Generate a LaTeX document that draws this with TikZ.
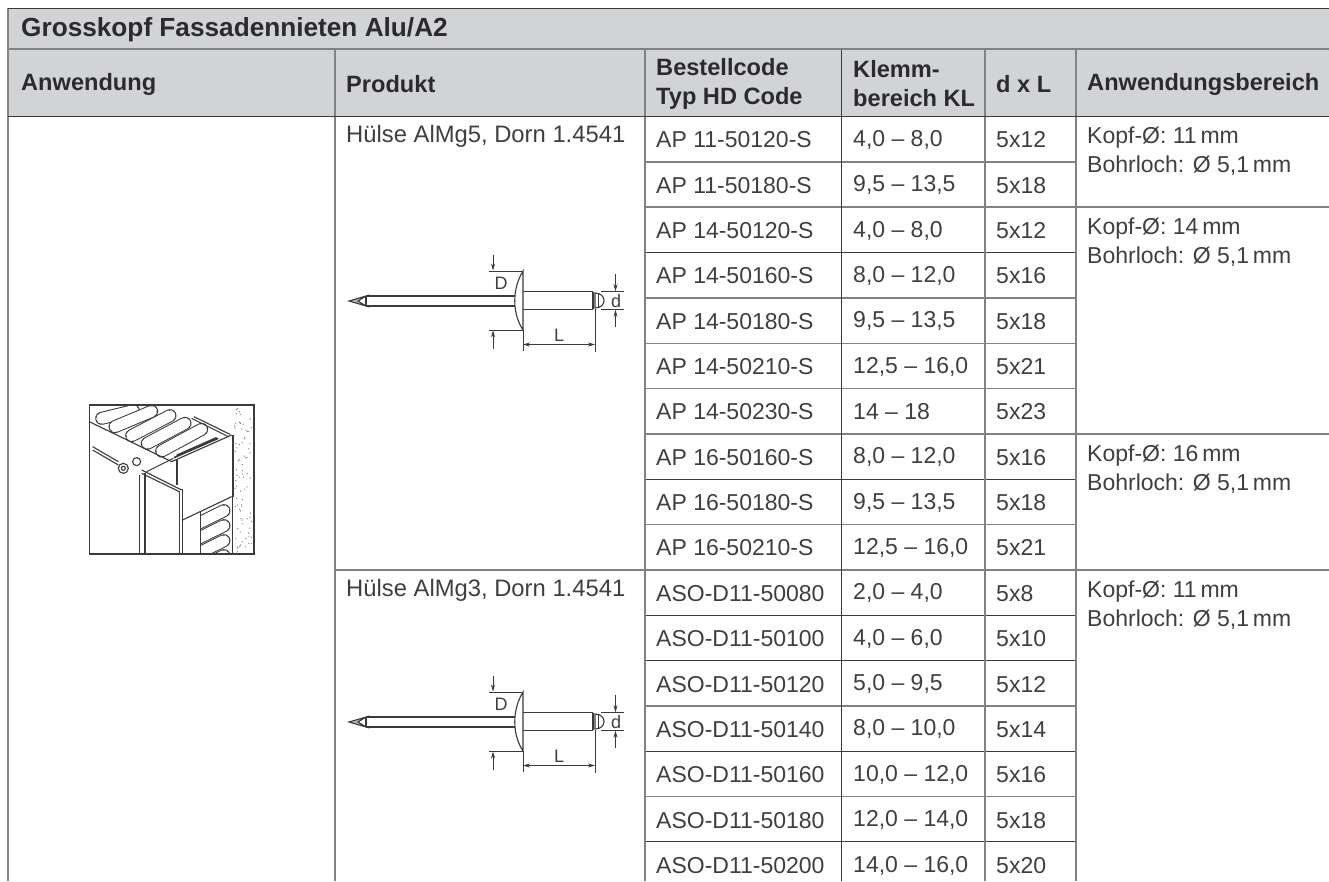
\documentclass[tikz,border=0pt]{standalone}
\usepackage{fontspec}
\setmainfont{Liberation Sans}
\usetikzlibrary{arrows.meta,positioning}
\definecolor{headGray}{HTML}{D1D3D4}
\definecolor{ruleGray}{HTML}{808285}
\definecolor{ruleDark}{HTML}{3A3A3C}
\definecolor{textDark}{HTML}{3F3F41}
\definecolor{headText}{HTML}{2B2B2D}
\begin{document}
\begin{tikzpicture}
[x=1pt,y=-1pt,
  titleDecorate/.style={anchor=west,inner sep=0pt,font=\fontsize{26.2}{26}\selectfont\bfseries,text=headText},
  headDecorate/.style={anchor=west,inner sep=0pt,align=left,font=\fontsize{23.6}{29}\selectfont\bfseries,text=headText},
  cellDecorate/.style={anchor=west,inner sep=0pt,align=left,font=\fontsize{23}{29}\selectfont,text=textDark},
  ruleThick/.style={ruleGray,line width=2pt},
  ruleMid/.style={ruleGray,line width=1.4pt},
  ruleThin/.style={ruleDark,line width=1pt},
  dimDecorate/.style={line width=0.7pt,ruleDark},
  dimArrow/.style={line width=0.7pt,ruleDark,-{Stealth[length=7pt,width=4pt]}},
  dimLabel/.style={inner sep=0pt,font=\fontsize{18}{18}\selectfont,text=textDark},
  rivetLine/.style={line width=1.1pt,ruleDark},
  rivet/.pic={
    \draw[rivetLine] (17,-5) -- (167,-5) (17,5) -- (167,5);
    \draw[rivetLine,fill=ruleGray!60] (0,0) -- (17,-5) -- (9,0) -- (17,5) -- cycle;
    \draw[rivetLine] (17,-5) -- (17,5);
    \draw[rivetLine,fill=white] (174,-30) .. controls (163,-12) and (163,12) .. (174,29) -- cycle;
    \draw[rivetLine] (174,-9.3) -- (244,-9.3) (174,8.3) -- (244,8.3);
    \draw[rivetLine] (244,-9.3) -- (244,8.3);
    \draw[rivetLine] (246,-8) .. controls (258,-8) and (258,7) .. (246,7) -- cycle;
    \draw[dimDecorate] (249,-7.5) -- (249,6.5);
    % dimension lines
    \coordinate (headTop) at (140,-30);
    \coordinate (headBottom) at (140,29);
    \draw[dimDecorate] (headTop) -- (174,-30) (headBottom) -- (174,29);
    \draw[dimDecorate] (174,29) -- (174,50) (246,8) -- (246,51);
    \draw[dimDecorate] (252,-9.3) -- (275,-9.3) (252,8.3) -- (275,8.3);
    \draw[dimArrow] (144,-46) -- (144,-30.5);
    \draw[dimArrow] (144,48) -- (144,29.5);
    \draw[dimArrow] (266.5,-27) -- (266.5,-9.8);
    \draw[dimArrow] (266.5,26) -- (266.5,8.8);
    \draw[dimArrow] (190,43.5) -- (174,43.5);
    \draw[dimArrow] (230,43.5) -- (246,43.5);
    \draw[dimDecorate] (190,43.5) -- (230,43.5);
    \node[dimLabel] (labelD) at (152,-18) {D};
    \node[dimLabel] (labelSmallD) at (267,0.5) {d};
    \node[dimLabel] (labelL) at (210,34) {L};
  }]
\useasboundingbox (0,0) rectangle (1329,881);
%% header bands
\fill[headGray] (8,8) rectangle (1329,116);
%% body rules
\foreach \ystart/\rowstyle in {
  1/ruleMid,3/ruleThin,4/ruleMid,5/ruleMid,6/ruleMid,
  8/ruleThin,9/ruleMid,11/ruleThin,12/ruleThin,13/ruleMid,14/ruleThin,15/ruleMid,16/ruleThin}
{
  \draw[\rowstyle] (645,116.5+\ystart*45.34) -- (1076,116.5+\ystart*45.34);
}
\foreach \ystart in {2,7}
{
  \draw[ruleMid] (645,116.5+\ystart*45.34) -- (1329,116.5+\ystart*45.34);
}
\draw[ruleMid] (335,570) -- (1329,570);
%% columns
\draw[ruleThick] (8,8) -- (8,881);
\draw[ruleThick] (335,49) -- (335,881);
\draw[ruleThick] (645,49) -- (645,881);
\draw[ruleThin] (841.5,49) -- (841.5,881);
\draw[ruleMid] (985,49) -- (985,881);
\draw[ruleMid] (1076,49) -- (1076,881);
%% head rules
\draw[ruleThin] (8,8) -- (1329,8);
\draw[ruleThick] (8,49) -- (1329,49);
\draw[ruleThin] (8,116.5) -- (1329,116.5);
%% head texts
\node[titleDecorate] (title) at (21,30) {Grosskopf Fassadennieten Alu/A2};
\foreach \nodename/\x/\txt in {
  anwendung/21/Anwendung,
  produkt/346/Produkt,
  code/656/{Bestellcode\\Typ HD Code},
  klemm/853/{Klemm-\\bereich KL},
  dxl/996/d x L,
  bereich/1087/Anwendungsbereich}
{
  \node[headDecorate] (\nodename) at (\x,84) {\txt};
}
%% rows
\foreach \rownum/\codename/\klemmtxt/\dxltxt in {
  0/AP 11-50120-S/{4,0 – 8,0}/5x12,
  1/AP 11-50180-S/{9,5 – 13,5}/5x18,
  2/AP 14-50120-S/{4,0 – 8,0}/5x12,
  3/AP 14-50160-S/{8,0 – 12,0}/5x16,
  4/AP 14-50180-S/{9,5 – 13,5}/5x18,
  5/AP 14-50210-S/{12,5 – 16,0}/5x21,
  6/AP 14-50230-S/{14 – 18}/5x23,
  7/AP 16-50160-S/{8,0 – 12,0}/5x16,
  8/AP 16-50180-S/{9,5 – 13,5}/5x18,
  9/AP 16-50210-S/{12,5 – 16,0}/5x21,
  10/ASO-D11-50080/{2,0 – 4,0}/5x8,
  11/ASO-D11-50100/{4,0 – 6,0}/5x10,
  12/ASO-D11-50120/{5,0 – 9,5}/5x12,
  13/ASO-D11-50140/{8,0 – 10,0}/5x14,
  14/ASO-D11-50160/{10,0 – 12,0}/5x16,
  15/ASO-D11-50180/{12,0 – 14,0}/5x18,
  16/ASO-D11-50200/{14,0 – 16,0}/5x20}
{
  \node[cellDecorate] (code\rownum) at (656,140+\rownum*45.34) {\codename};
  \node[cellDecorate] (klemm\rownum) at (853,140+\rownum*45.34) {\klemmtxt};
  \node[cellDecorate] (dxl\rownum) at (996,140+\rownum*45.34) {\dxltxt};
}
%% product and range texts
\node[cellDecorate,font=\fontsize{23.8}{29}\selectfont] (sleeveA) at (346,136) {Hülse AlMg5, Dorn 1.4541};
\node[cellDecorate,font=\fontsize{23.8}{29}\selectfont] (sleeveB) at (346,590) {Hülse AlMg3, Dorn 1.4541};
\foreach \nodename/\y/\headsize in {
  rangeA/151/11\,mm,
  rangeB/242/14\,mm,
  rangeC/469/16\,mm,
  rangeD/605/11\,mm}
{
  \node[cellDecorate] (\nodename) at (1087,\y) {Kopf-Ø: \headsize\\Bohrloch: Ø 5,1\,mm};
}
%% rivets
\pic at (349,301) {rivet};
\pic at (349,722) {rivet};
%% application sketch
\begin{scope}[shift={(70,390)},x=0.3333pt,y=-0.3333pt,line width=1.1pt,ruleDark]
% insulation on top
\foreach \xa/\ya/\xb/\yb in {95/85/190/62,135/110/245/64,185/137/300/77,232/160/345/100,275/183/395/118}
{
  \draw[line cap=round,line width=13pt] (\xa,\ya) -- (\xb,\yb);
  \draw[line cap=round,line width=11pt,white] (\xa,\ya) -- (\xb,\yb);
}
% insulation below
\begin{scope}
\clip (392,364) -- (485,320) -- (485,492) -- (392,492) -- cycle;
\foreach \ya in {380,425,470,515}
{
  \draw[line cap=round,line width=13pt] (375,\ya+25) -- (462,\ya-18);
  \draw[line cap=round,line width=11pt,white] (375,\ya+25) -- (462,\ya-18);
}
\end{scope}
\draw[line width=1.4pt] (58,492) -- (58,45) -- (552,45) -- (552,492) -- cycle;
\draw (58,95) -- (305,215) -- (485,135);
\draw (365,85) -- (475,140) (372,80) -- (480,133);
\draw[line width=1.6pt] (312,203) -- (445,145) (320,196) -- (440,143);
\draw[line width=1.8pt] (488,135) -- (488,320);
\draw (488,320) -- (488,492);
\draw (68,170) -- (145,215) (68,180) -- (145,225);
\draw[fill=white] (160,235) circle (15);
\draw[fill=white] (160,235) circle (6);
\draw[fill=white] (200,215) circle (12);
\draw (215,240) -- (335,300) (215,250) -- (330,306);
\draw (230,245) -- (310,205);
\draw[line width=1.8pt] (322,210) -- (322,285);
\draw (208,255) -- (208,492) (225,248) -- (225,492);
\draw (328,305) -- (328,492) (338,298) -- (338,492);
\draw (338,390) -- (485,320);
\draw (392,365) -- (392,492);
\end{scope}
\pgfmathsetseed{7}
\foreach \dotnum in {1,...,80}
{
  \fill[ruleGray] (234.5+17.5*rnd,407+145*rnd) circle (0.7pt);
}
\end{tikzpicture}
\end{document}
